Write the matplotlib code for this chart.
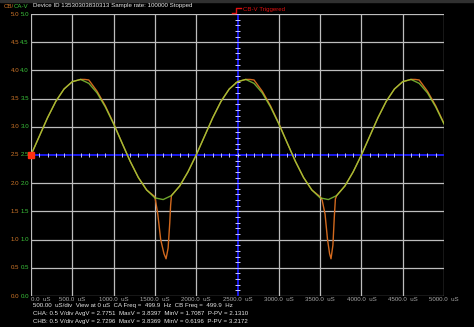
import matplotlib.pyplot as plt
import numpy as np

ca_t = list(range(0, 5001, 100))
ca_v = [2.50, 2.83, 3.16, 3.45, 3.67, 3.80, 3.84, 3.77, 3.60, 3.35,
        3.05, 2.72, 2.39, 2.10, 1.88, 1.74, 1.71, 1.78, 1.95, 2.20,
        2.50, 2.83, 3.16, 3.45, 3.67, 3.80, 3.84, 3.77, 3.60, 3.35,
        3.05, 2.72, 2.39, 2.10, 1.88, 1.74, 1.71, 1.78, 1.95, 2.20,
        2.50, 2.83, 3.16, 3.45, 3.67, 3.80, 3.84, 3.77, 3.60, 3.35,
        3.05]

# channel B (orange), extra samples around the peaks and the dips
cb_t = [0, 100, 200, 300, 400, 500, 600, 650, 700, 800, 900,
        1000, 1100, 1200, 1300, 1400, 1500, 1535, 1570, 1610, 1635, 1660, 1680, 1690, 1700,
        1800, 1900, 2000, 2100, 2200, 2300, 2400, 2500, 2600, 2650, 2700, 2800, 2900,
        3000, 3100, 3200, 3300, 3400, 3500, 3525, 3560, 3590, 3615, 3632, 3655, 3672, 3685, 3700,
        3800, 3900, 4000, 4100, 4200, 4300, 4400, 4500, 4600, 4650, 4700, 4800, 4900, 5000]
cb_v = [2.50, 2.83, 3.16, 3.45, 3.67, 3.80, 3.84, 3.84, 3.83, 3.63, 3.37,
        3.06, 2.72, 2.39, 2.10, 1.88, 1.76, 1.45, 1.00, 0.75, 0.66, 0.85, 1.30, 1.60, 1.78,
        1.95, 2.20, 2.50, 2.83, 3.16, 3.45, 3.67, 3.80, 3.84, 3.84, 3.83, 3.63, 3.37,
        3.06, 2.72, 2.39, 2.10, 1.88, 1.76, 1.70, 1.45, 1.00, 0.75, 0.66, 0.90, 1.40, 1.72, 1.78,
        1.95, 2.20, 2.50, 2.83, 3.16, 3.45, 3.67, 3.80, 3.84, 3.84, 3.83, 3.63, 3.37, 3.06]

x_ticks = [0, 500, 1000, 1500, 2000, 2500, 3000, 3500, 4000, 4500, 5000]
x_labels = ["0.0  uS", "500.0  uS", "1000.0  uS", "1500.0  uS", "2000.0  uS", "2500.0  uS",
            "3000.0  uS", "3500.0  uS", "4000.0  uS", "4500.0  uS", "5000.0  uS"]
y_ticks = [0.0, 0.5, 1.0, 1.5, 2.0, 2.5, 3.0, 3.5, 4.0, 4.5, 5.0]

header = "Device ID 13530303830313 Sample rate: 100000 Stopped"
info_lines = [
    "500.00  uS/div  View at 0 uS  CA Freq =  499.9  Hz  CB Freq =  499.9  Hz",
    "CHA: 0.5 V/div AvgV = 2.7751  MaxV = 3.8397  MinV = 1.7087  P-PV = 2.1310",
    "CHB: 0.5 V/div AvgV = 2.7296  MaxV = 3.8369  MinV = 0.6196  P-PV = 3.2172",
]

plt.rcParams['font.family'] = ['Liberation Sans', 'DejaVu Sans']
W, H = 474, 327
fs = 4.4
fig = plt.figure(figsize=(W / 100, H / 100), dpi=100, facecolor="black")
ax = fig.add_axes([31 / W, 1 - 296 / H, 413 / W, 282 / H], facecolor="black")

grid_c = "#bdbdbd"
for t in x_ticks:
    if t != 2500:
        ax.axvline(t, color=grid_c, lw=0.9, zorder=1)
for v in y_ticks:
    if v != 2.5:
        ax.axhline(v, color=grid_c, lw=0.9, zorder=1)

# blue centre cross with its small ticks
blue = "#1c1cff"
ax.axhline(2.5, color=blue, lw=1.3, zorder=2)
ax.axvline(2500, color=blue, lw=1.3, zorder=2)
ax.vlines(np.arange(0, 5001, 100), 2.5 - 0.04, 2.5 + 0.04, color="#c8c8ff", lw=0.7, zorder=3)
ax.hlines(np.arange(0, 5.01, 0.1), 2500 - 28, 2500 + 28, color="#c8c8ff", lw=0.7, zorder=3)

ax.plot(cb_t, cb_v, color="#d2691e", lw=1.0, zorder=4)
ax.plot(ca_t, ca_v, color="#94dc3c", lw=1.0, alpha=0.75, zorder=5)

ax.plot([0], [2.5], "s", color="#ff3010", ms=4.8, zorder=6, clip_on=False)

ax.set_xlim(0, 5000)
ax.set_ylim(0, 5)
for s in ax.spines.values():
    s.set_visible(False)
ax.set_xticks(x_ticks)
ax.set_xticklabels(x_labels)
ax.get_xticklabels()[0].set_horizontalalignment("left")
ax.set_yticks([])
ax.tick_params(axis="x", length=0, pad=0.4, labelsize=fs, colors="#a8a8a8")

ytr = ax.get_yaxis_transform()
for v in y_ticks:
    ax.text(-0.029, v, f"{v:.1f}", color="#d2782a", fontsize=fs, ha="right", va="center", transform=ytr)
    ax.text(-0.005, v, f"{v:.1f}", color="#3cc83c", fontsize=fs, ha="right", va="center", transform=ytr)

# header
fig.patches.append(plt.Rectangle((0, 1 - 2 / H), 1, 2 / H, transform=fig.transFigure,
                                 color="#303030", zorder=0))
cb_lbl = fig.text(4 / W, 1 - 6 / H, "CB/", color="#d2782a", fontsize=fs, va="center")
ax.annotate("CA-V", xy=(1, 0.5), xycoords=cb_lbl, color="#3cc83c", fontsize=fs,
            va="center", ha="left", annotation_clip=False)
fig.text(33 / W, 1 - 6 / H, header, color="#e8e8e8", fontsize=fs, va="center")

# trigger marker
red = "#e01010"
fig.add_artist(plt.Line2D([232 / W, 236 / W, 236 / W, 241 / W],
                          [1 - 13 / H, 1 - 13 / H, 1 - 8 / H, 1 - 8 / H],
                          color=red, lw=1.0, transform=fig.transFigure))
fig.text(243 / W, 1 - 9.5 / H, "CB-V Triggered", color=red, fontsize=fs, va="center")

for i, line in enumerate(info_lines):
    fig.text(33 / W, 1 - (305 + 8.3 * i) / H, line, color="#e8e8e8", fontsize=fs, va="center")

fig.savefig("out.png", dpi=100, facecolor="black")
